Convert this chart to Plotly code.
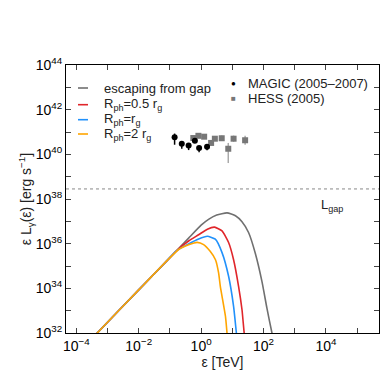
import numpy as np
import plotly.graph_objects as go

# ---- data (log10 values) ----
# shared low-energy power law, log10(E/TeV) and log10(L/erg s^-1)
low_loge = [-3.5, -3.33, -2.0, -1.1]
low_logl = [31.75, 32.0, 33.93, 35.23]

gap_loge = [-0.72, -0.40, 0.0, 0.25, 0.50, 0.83, 1.10, 1.31, 1.52, 1.74, 1.95, 2.11, 2.27, 2.37]
gap_logl = [35.78, 36.25, 36.83, 37.10, 37.28, 37.38, 37.25, 36.98, 36.50, 35.55, 34.30, 33.10, 32.0, 31.4]

r05_loge = [-0.75, -0.40, -0.08, 0.20, 0.43, 0.67, 0.88, 1.04, 1.20, 1.31, 1.38, 1.43]
r05_logl = [35.74, 36.12, 36.40, 36.65, 36.74, 36.57, 36.05, 35.28, 34.09, 33.04, 32.0, 31.5]

r1_loge = [-0.80, -0.40, -0.08, 0.20, 0.455, 0.67, 0.88, 1.04, 1.13, 1.17]
r1_logl = [35.67, 35.99, 36.21, 36.33, 36.20, 35.60, 34.54, 33.19, 32.0, 31.5]

r2_loge = [-0.72, -0.40, -0.13, 0.08, 0.29, 0.46, 0.56, 0.615, 0.78, 0.83, 0.86]
r2_logl = [35.74, 35.95, 36.06, 35.96, 35.66, 35.28, 34.69, 34.09, 32.75, 32.0, 31.6]

magic_loge = [-0.85, -0.62, -0.40, -0.20, -0.065, 0.19]
magic_logl = [40.76, 40.47, 40.39, 40.61, 40.28, 40.34]
magic_up = [0.17, 0.11, 0.07, 0.05, 0.09, 0.12]
magic_dn = [0.33, 0.22, 0.20, 0.05, 0.19, 0.16]

hess_loge = [-0.25, -0.087, 0.097, 0.32, 0.44, 0.66, 0.87, 1.04, 1.41]
hess_logl = [40.73, 40.83, 40.79, 40.51, 40.70, 40.72, 40.25, 40.70, 40.63]
hess_up = [0.12, 0.05, 0.05, 0.11, 0.08, 0.12, 0.26, 0.14, 0.2]
hess_dn = [0.12, 0.05, 0.05, 0.11, 0.08, 0.12, 0.64, 0.14, 0.2]

log_lgap = 38.45

x_range = [-4.33, 5.70]
y_range = [32, 44]

FONT = "Liberation Sans, Arial, sans-serif"


def curve(loge, logl, color, name):
    x = 10.0 ** np.array(low_loge + loge)
    y = 10.0 ** np.array(low_logl + logl)
    return go.Scatter(x=x, y=y, mode="lines", name=name,
                      line=dict(color=color, width=1.6, shape="spline", smoothing=0.5))


def points(loge, logl, up, dn, color, symbol, barcolor, name):
    l = np.array(logl)
    y = 10.0 ** l
    return go.Scatter(x=10.0 ** np.array(loge), y=y, mode="markers", name=name,
                      marker=dict(color=color, symbol=symbol, size=6),
                      error_y=dict(type="data", symmetric=False,
                                   array=10.0 ** (l + np.array(up)) - y,
                                   arrayminus=y - 10.0 ** (l - np.array(dn)),
                                   color=barcolor, thickness=1.5, width=0))


fig = go.Figure()
fig.add_trace(go.Scatter(x=[10.0 ** x_range[0], 10.0 ** x_range[1]], y=[10.0 ** log_lgap] * 2,
                         mode="lines", line=dict(color="#888888", width=1, dash="dot")))
fig.add_trace(curve(gap_loge, gap_logl, "#707070", "escaping from gap"))
fig.add_trace(curve(r05_loge, r05_logl, "#e0262b", "R_ph=0.5 r_g"))
fig.add_trace(curve(r1_loge, r1_logl, "#2191fb", "R_ph=r_g"))
fig.add_trace(curve(r2_loge, r2_logl, "#ffa500", "R_ph=2 r_g"))
fig.add_trace(points(hess_loge, hess_logl, hess_up, hess_dn, "#777777", "square", "#aaaaaa", "HESS (2005)"))
fig.add_trace(points(magic_loge, magic_logl, magic_up, magic_dn, "black", "circle", "black", "MAGIC (2005-2007)"))

xt = list(range(-4, 6))
yt = list(range(32, 45))
axis_common = dict(type="log", showgrid=False, zeroline=False, showline=True, linecolor="black",
                   linewidth=1, mirror="allticks", ticks="inside", ticklen=5, tickcolor="#444444",
                   automargin=False, tickfont=dict(size=14, color="black", family=FONT))
fig.update_xaxes(range=x_range, tickvals=[10.0 ** v for v in xt],
                 ticktext=[("10<sup>%d</sup>" % v).replace("-", "\u2212") if v % 2 == 0 else "" for v in xt],
                 title=dict(text="\u03b5 [TeV]", font=dict(size=14, family=FONT, color="#222"), standoff=0),
                 **axis_common)
fig.update_yaxes(range=y_range, tickvals=[10.0 ** v for v in yt],
                 ticktext=["10<sup>%d</sup>" % v if v % 2 == 0 else "" for v in yt],
                 title=dict(text="\u03b5 L<sub>\u03b3</sub>(\u03b5) [erg s<sup>\u22121</sup>]",
                            font=dict(size=14, family=FONT, color="#222"), standoff=0),
                 **axis_common)

# hand-drawn legends
W, H, L0, B0 = 313.0, 268.0, 58.0, 325.0


def px(x):
    return (x - L0) / W


def py(y):
    return (B0 - y) / H


leg = [("escaping from gap", "#707070", 80),
       ("R<sub>ph</sub>=0.5 r<sub>g</sub>", "#e0262b", 96.7),
       ("R<sub>ph</sub>=r<sub>g</sub>", "#2191fb", 111.7),
       ("R<sub>ph</sub>=2 r<sub>g</sub>", "#ffa500", 126)]
for text, color, y in leg:
    fig.add_shape(type="line", xref="paper", yref="paper", x0=px(70), x1=px(80), y0=py(y), y1=py(y),
                  line=dict(color=color, width=1.6))
    fig.add_annotation(xref="paper", yref="paper", x=px(94), y=py(y), xanchor="left", yanchor="middle",
                       text=text, showarrow=False, font=dict(size=13, family=FONT, color="#222"))

for sym, color, text, y in [("\u25cf", "black", "MAGIC (2005\u20132007)", 75),
                            ("\u25a0", "#777777", "HESS (2005)", 90)]:
    fig.add_annotation(xref="paper", yref="paper", x=px(225), y=py(y), xanchor="center", yanchor="middle",
                       text=sym, showarrow=False, font=dict(size=8, color=color))
    fig.add_annotation(xref="paper", yref="paper", x=px(238), y=py(y), xanchor="left", yanchor="middle",
                       text=text, showarrow=False, font=dict(size=13, family=FONT, color="#222"))

fig.add_annotation(xref="paper", yref="paper", x=px(311), y=py(197), xanchor="left", yanchor="middle",
                   text="L<sub>gap</sub>", showarrow=False, font=dict(size=13, family=FONT, color="#222"))

fig.update_layout(width=390, height=383, margin=dict(l=58, r=19, t=57, b=58),
                  paper_bgcolor="white", plot_bgcolor="white", showlegend=False,
                  font=dict(family=FONT))

fig.write_html("out.html")
